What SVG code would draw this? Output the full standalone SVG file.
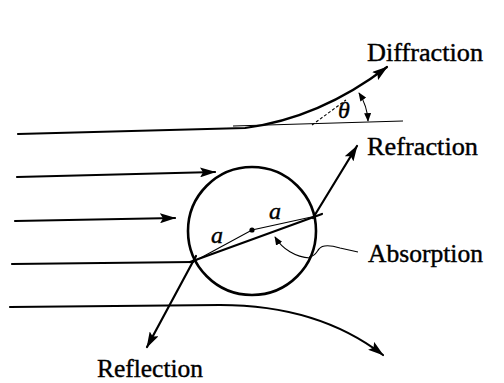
<svg xmlns="http://www.w3.org/2000/svg" width="504" height="383" viewBox="0 0 504 383">
<style>
.ray{fill:none;stroke:#000;stroke-width:2.2;stroke-linecap:round}
.thin{fill:none;stroke:#000;stroke-width:1.1}
.lbl{font-family:"Liberation Serif","Times New Roman",serif;font-size:25.5px;fill:#000;stroke:#000;stroke-width:0.4}
.sym{font-family:"Liberation Serif","Times New Roman",serif;font-style:italic;font-size:24px;fill:#000;stroke:#000;stroke-width:0.4}
</style>
<defs>
<marker id="ah" viewBox="0 0 16 10" refX="15" refY="5" markerWidth="16" markerHeight="10" markerUnits="userSpaceOnUse" orient="auto">
<path d="M0,0 L16,5 L0,10 L3,5 Z" fill="#000"/>
</marker>
<marker id="sh" viewBox="0 0 10 8" refX="9" refY="4" markerWidth="9" markerHeight="7" markerUnits="userSpaceOnUse" orient="auto">
<path d="M0,0 L10,4 L0,8 Z" fill="#000"/>
</marker>
<marker id="shs" viewBox="0 0 10 8" refX="1" refY="4" markerWidth="9" markerHeight="7" markerUnits="userSpaceOnUse" orient="auto">
<path d="M10,0 L0,4 L10,8 Z" fill="#000"/>
</marker>
</defs>
<g id="particle">
<circle cx="252" cy="231" r="64" fill="none" stroke="#000" stroke-width="2.6"/>
<circle cx="252" cy="230" r="2.6" fill="#000"/>
</g>
<g id="connectors">
<path class="ray" d="M18,134 L245,128 Q320,118 387,67" marker-end="url(#ah)"/>
<path class="thin" d="M233,126 L403,121"/>
<path class="thin" d="M312,125 L346,100" stroke-dasharray="3,2"/>
<path class="thin" d="M359,93 A56,56 0 0 1 368,121" marker-start="url(#shs)" marker-end="url(#sh)"/>
<path class="ray" d="M17,177 L215,172" marker-end="url(#ah)"/>
<path class="ray" d="M15,221 L175,218" marker-end="url(#ah)"/>
<path class="ray" d="M12,264 L193,262"/>
<path class="ray" d="M10,307 L220,305 Q318,305 383,355" marker-end="url(#ah)"/>
<path class="ray" d="M190,262 L322,214"/>
<path class="thin" d="M193,262 L252,230 L316,216"/>
<path class="ray" d="M196,256 L147,347" stroke-width="1.8" marker-end="url(#ah)"/>
<path class="ray" d="M313,218 L357,146" stroke-width="1.8" marker-end="url(#ah)"/>
<path class="thin" stroke-width="1.4" d="M310,258 A44,44 0 0 1 275,237" marker-end="url(#sh)"/>
<path class="thin" d="M309,257 C316,256 317,251 319,249 C322,245 330,245 340,248 L358,252"/>
</g>
<g id="labels">
<text class="lbl" x="367" y="61" textLength="116" lengthAdjust="spacingAndGlyphs">Diffraction</text>
<text class="lbl" x="367" y="155" textLength="111" lengthAdjust="spacingAndGlyphs">Refraction</text>
<text class="lbl" x="368" y="262" textLength="115" lengthAdjust="spacingAndGlyphs">Absorption</text>
<text class="lbl" x="97" y="377" textLength="106" lengthAdjust="spacingAndGlyphs">Reflection</text>
<text class="sym" x="338" y="118">θ</text>
<text class="sym" x="211" y="243">a</text>
<text class="sym" x="269" y="219">a</text>
</g>
</svg>
